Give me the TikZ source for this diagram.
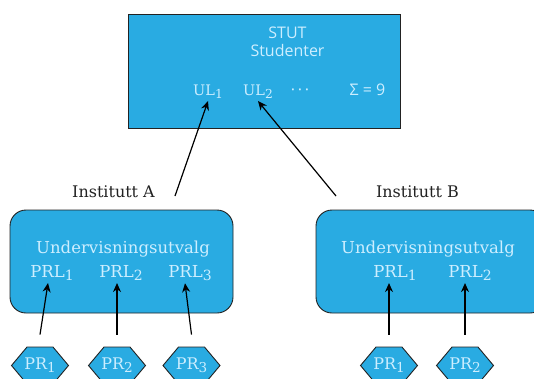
\documentclass[tikz,border=0pt]{standalone}
\usepackage{fontspec}
\setmainfont{DejaVu Serif}
\setsansfont{Open Sans}
\usetikzlibrary{arrows.meta,shapes.symbols}
\definecolor{boxblue}{HTML}{29ABE2}
\definecolor{boxtext}{HTML}{CDEEFF}
\definecolor{edge}{HTML}{222222}
\newcommand\subidx[1]{\raisebox{-0.45ex}{\scalebox{0.85}{#1}}}
\tikzset{
  panel/.style={draw=edge, line width=0.9pt, fill=boxblue},
  unit/.style={panel, rounded corners=16pt},
  inner/.style={text=boxtext, font=\fontsize{16.5}{19}\selectfont, inner sep=1pt, anchor=base},
  ultext/.style={text=boxtext, font=\fontsize{14.5}{17}\selectfont, inner sep=1pt, anchor=base},
  innersans/.style={text=boxtext, font=\sffamily\fontsize{16}{19}\selectfont, inner sep=1pt, anchor=base},
  caption/.style={text=edge, font=\fontsize{16}{19}\selectfont, inner sep=1pt, anchor=base},
  hexa/.style={panel, signal, signal to=west and east, signal pointer angle=100,
    minimum width=57pt, minimum height=37pt, inner sep=0pt},
  hexlabel/.style={text=boxtext, font=\fontsize{16}{19}\selectfont, inner sep=1pt, anchor=base},
  link/.style={draw=black, line width=1.2pt, -{Stealth[length=9pt,width=8pt]}},
}
\begin{document}
\begin{tikzpicture}[x=1pt,y=-1pt]
\useasboundingbox (0,0) rectangle (534,378);
\clip (0,0) rectangle (534,378);

% top panel: student body
\node[panel, minimum width=272pt, minimum height=114pt, inner sep=0pt] (stut) at (264,71) {};
\node[innersans] (stutname) at (287.5,38) {STUT};
\node[innersans] (studenter) at (287.5,56.5) {Studenter};
\node[ultext] (ul1) at (208,95.5) {UL\subidx{1}};
\node[ultext] (ul2) at (258,95.5) {UL\subidx{2}};
\node[innersans] (dots) at (300,95.5) {·\,·\,·};
\node[innersans] (sum) at (367.5,95.5) {Σ = 9};

% department labels
\node[caption] (insta) at (113.5,197) {Institutt A};
\node[caption] (instb) at (417.5,197) {Institutt B};
\coordinate (fromA) at (175,196);
\coordinate (fromB) at (336,196);

% department boards
\node[unit, minimum width=223pt, minimum height=103pt, inner sep=0pt] (ua) at (121.5,261.5) {};
\node[unit, minimum width=230pt, minimum height=103pt, inner sep=0pt] (ub) at (431,261.5) {};

\node[inner] (uva) at (123,253) {Undervisningsutvalg};
\node[inner] (prla1) at (52,277) {PRL\subidx{1}};
\node[inner] (prla2) at (121,277) {PRL\subidx{2}};
\node[inner] (prla3) at (190,277) {PRL\subidx{3}};

\node[inner] (uvb) at (428,253) {Undervisningsutvalg};
\node[inner] (prlb1) at (395,277) {PRL\subidx{1}};
\node[inner] (prlb2) at (470,277) {PRL\subidx{2}};

% programme representatives
\node[hexa] (pra1) at (40,365.5) {};
\node[hexa] (pra2) at (117,365.5) {};
\node[hexa] (pra3) at (191.5,365.5) {};
\node[hexa] (prb1) at (389,365.5) {};
\node[hexa] (prb2) at (465,365.5) {};
\node[hexlabel] (pra1t) at (40,369) {PR\subidx{1}};
\node[hexlabel] (pra2t) at (117,369) {PR\subidx{2}};
\node[hexlabel] (pra3t) at (191.5,369) {PR\subidx{3}};
\node[hexlabel] (prb1t) at (389,369) {PR\subidx{1}};
\node[hexlabel] (prb2t) at (465,369) {PR\subidx{2}};

% reporting lines
\draw[link] (fromA) -- ([yshift=-1pt]ul1.south);
\draw[link] (fromB) -- ([yshift=-1pt]ul2.south);
\draw[link] ([yshift=12pt]pra1.north) -- ([xshift=-4pt,yshift=-1pt]prla1.south);
\draw[link] ([yshift=12pt]pra2.north) -- ([yshift=-1pt]pra2.north |- prla2.south);
\draw[link] ([yshift=12pt]pra3.north) -- ([xshift=-5pt,yshift=-1pt]prla3.south);
\draw[link] ([yshift=12pt]prb1.north) -- ([yshift=-1pt]prb1.north |- prlb1.south);
\draw[link] ([yshift=12pt]prb2.north) -- ([yshift=-1pt]prb2.north |- prlb2.south);
\end{tikzpicture}
\end{document}
